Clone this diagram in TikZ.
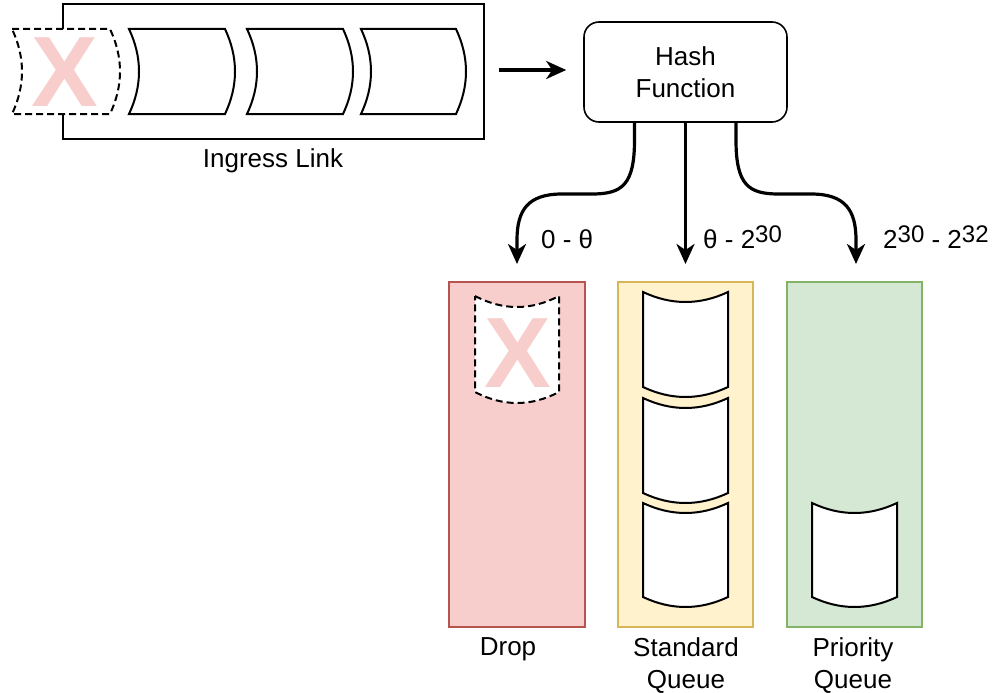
\documentclass[tikz,border=0pt]{standalone}
\usepackage{fontspec}
\setmainfont{Liberation Sans}
\usetikzlibrary{arrows.meta}
\definecolor{dropfill}{HTML}{F8CECC}
\definecolor{dropline}{HTML}{B85450}
\definecolor{stdfill}{HTML}{FFF2CC}
\definecolor{stdline}{HTML}{D6B656}
\definecolor{prifill}{HTML}{D5E8D4}
\definecolor{priline}{HTML}{82B366}
% horizontal packet: style, x0, y0, w, h, bulge
\newcommand\hpkt[6]{\draw[#1] (#2,#3) -- ({#2+#4},#3) .. controls ({#2+#4+4*#6/3},{#3+#5/3}) and ({#2+#4+4*#6/3},{#3+2*#5/3}) .. ({#2+#4},{#3+#5}) -- (#2,{#3+#5}) .. controls ({#2+4*#6/3},{#3+2*#5/3}) and ({#2+4*#6/3},{#3+#5/3}) .. cycle;}
% vertical packet: style, x0, y0, w, h, bulge
\newcommand\vpkt[6]{\draw[#1] (#2,#3) .. controls ({#2+#4/3},{#3+4*#6/3}) and ({#2+2*#4/3},{#3+4*#6/3}) .. ({#2+#4},#3) -- ({#2+#4},{#3+#5}) .. controls ({#2+2*#4/3},{#3+#5+4*#6/3}) and ({#2+#4/3},{#3+#5+4*#6/3}) .. (#2,{#3+#5}) -- cycle;}
\newcommand\spr[1]{\raisebox{6pt}{\fontsize{24}{24}\selectfont #1}}
\tikzset{
  lbl/.style={font=\fontsize{26}{32}\selectfont, inner sep=0pt},
  pkt/.style={draw=black, fill=white, line width=2pt},
  dpkt/.style={pkt, dash pattern=on 7pt off 4pt},
  xmark/.style={text=dropfill, font=\fontsize{100}{100}\selectfont\bfseries, inner sep=0pt},
  column/.style={line width=1.5pt},
  arr/.style={line width=3.2pt, -{Stealth[length=20pt, width=18pt, inset=6pt]}},
}
\begin{document}
\begin{tikzpicture}[x=1pt, y=-1pt]
\useasboundingbox (0,0) rectangle (999,693);
\fill[white] (0,0) rectangle (999,693);

% ingress link
\draw[line width=2pt] (63,29) -- (63,4.5) -- (484,4.5) -- (484,139) -- (63,139) -- (63,114);
\hpkt{dpkt}{12}{29}{98}{85}{10}
\node[xmark] (xin) at (65,72) {X};
\hpkt{pkt}{129}{29}{96}{85}{10}
\hpkt{pkt}{247}{29}{96}{85}{10}
\hpkt{pkt}{361}{29}{95}{85}{10}
\node[lbl, anchor=base] (inglbl) at (273,167) {Ingress Link};

% hash function
\node[draw, line width=1.6pt, rounded corners=15pt, minimum width=203pt, minimum height=100pt, align=center, lbl] (hash) at (685.5,72) {Hash\\[0pt]Function};
\coordinate (ingout) at (499,70);
\draw[arr, shorten >=17pt] (ingout) -- (hash.west |- ingout);

% columns
\draw[column, fill=dropfill, draw=dropline] (449,282) rectangle (585,627);
\draw[column, fill=stdfill, draw=stdline] (618,282) rectangle (753,627);
\draw[column, fill=prifill, draw=priline] (787,282) rectangle (922,627);

\vpkt{dpkt}{475}{296}{84}{96}{11}
\node[xmark] (xdrop) at (517.5,353) {X};
\vpkt{pkt}{643}{292}{85}{95}{10}
\vpkt{pkt}{643}{398}{85}{95}{10}
\vpkt{pkt}{643}{503}{85}{94}{10}
\vpkt{pkt}{812}{503}{85}{94}{10}

\node[lbl, anchor=base] (droplbl) at (508,655) {Drop};
\node[lbl, anchor=north, align=center] (stdlbl) at (686,637) {Standard\\[0pt]Queue};
\node[lbl, anchor=north, align=center] (prilbl) at (853,637) {Priority\\[0pt]Queue};

% tips
\coordinate (tipD) at (517,264);
\coordinate (tipS) at (685.5,264);
\coordinate (tipP) at (856,264);

\draw[arr] ([xshift=-51pt]hash.south) -- (634.5,140) .. controls (634.5,185) and (622,194) .. (592,194) -- (562,194) .. controls (528,194) and (517,210) .. (517,240) -- (tipD);
\draw[arr] (hash.south) -- (tipS);
\draw[arr] ([xshift=50.5pt]hash.south) -- (736,140) .. controls (736,185) and (748.5,194) .. (778.5,194) -- (811,194) .. controls (845,194) and (856,210) .. (856,240) -- (tipP);

\node[lbl, anchor=base west] (lblD) at (541,248) {0 - θ};
\node[lbl, anchor=base west] (lblS) at (703,248) {θ - 2\spr{30}};
\node[lbl, anchor=base west] (lblP) at (883,248) {2\spr{30} - 2\spr{32}};
\end{tikzpicture}
\end{document}
